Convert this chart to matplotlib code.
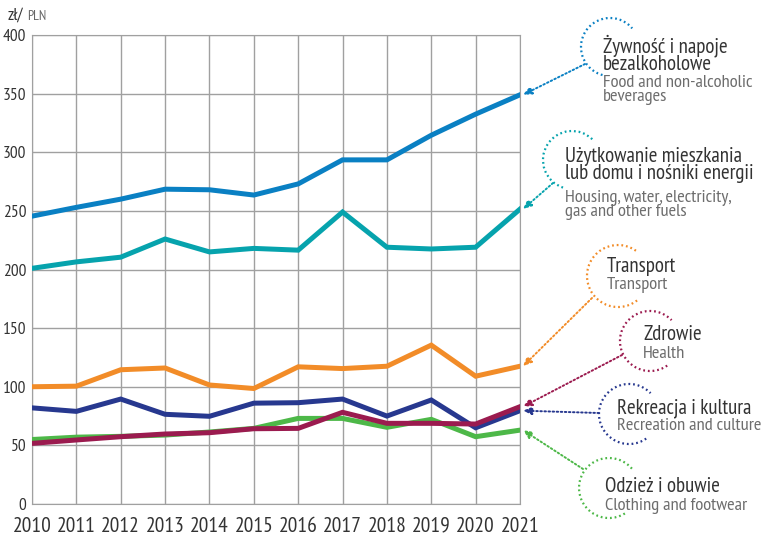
import matplotlib
matplotlib.use("Agg")
import matplotlib.pyplot as plt
from matplotlib.patches import Arc
from matplotlib import font_manager as fm

available = {f.name for f in fm.fontManager.ttflist}
prefs = ['PT Sans Narrow', 'Fira Sans Condensed', 'Roboto Condensed', 'Open Sans Condensed',
         'Encode Sans Condensed', 'Archivo Narrow', 'Asap Condensed', 'Liberation Sans Narrow',
         'IBM Plex Sans Condensed', 'Ubuntu Condensed']
chosen = [p for p in prefs if p in available][:1]
plt.rcParams['font.family'] = chosen + ['DejaVu Sans']

years = list(range(2010, 2022))
food = [245.5, 253, 260, 268.5, 268, 263.5, 273, 293.5, 293.5, 314.5, 332.5, 349]
housing = [201, 206.5, 210.5, 226, 215, 218, 216.5, 249, 219, 217.5, 219, 251.5]
transport = [100, 100.5, 114.5, 116, 101.5, 98.5, 117, 115.5, 117.5, 135.5, 109, 117.5]
recreation = [82, 79, 89.5, 76.5, 74.8, 86, 86.4, 89.5, 75, 88.7, 65, 79.6]
health = [51.7, 54.6, 57.4, 59.7, 60.8, 64.2, 64.5, 78.2, 68.8, 68.8, 68.2, 83]
clothing = [55, 57, 57.7, 58.8, 61.4, 64.5, 73, 73, 65.4, 72.2, 57.4, 63]

series = [
    (food, '#0a80c3', 'Żywność i napoje\nbezalkoholowe', 'Food and non-alcoholic\nbeverages'),
    (housing, '#06a3ad', 'Użytkowanie mieszkania\nlub domu i nośniki energii', 'Housing, water, electricity,\ngas and other fuels'),
    (transport, '#f28c28', 'Transport', 'Transport'),
    (health, '#9b1b4f', 'Zdrowie', 'Health'),
    (recreation, '#27388f', 'Rekreacja i kultura', 'Recreation and culture'),
    (clothing, '#4db848', 'Odzież i obuwie', 'Clothing and footwear'),
]
draw_order = [food, housing, transport, recreation, clothing, health]

W, H = 763, 538
fig = plt.figure(figsize=(W / 100, H / 100), dpi=100)
L, R, T, B = 32, 520, 35, 504
ax = fig.add_axes([L / W, (H - B) / H, (R - L) / W, (B - T) / H])

colors = {id(s[0]): s[1] for s in series}
for d in draw_order:
    ax.plot(years, d, color=colors[id(d)], lw=3.6, solid_joinstyle='miter', zorder=3)

ax.set_xlim(2010, 2021)
ax.set_ylim(0, 400)
ax.set_xticks(years)
ax.set_yticks(range(0, 401, 50))
ax.grid(True, color='#a0a0a0', lw=1.0)
for sp in ax.spines.values():
    sp.set_color('#a0a0a0')
ax.tick_params(length=0, colors='#333333')
ax.tick_params(axis='y', labelsize=12.5, pad=4)
ax.tick_params(axis='x', labelsize=15.5, pad=9)

fig.text(8 / W, 1 - 16 / H, 'zł/', fontsize=12.5, color='#333333', va='center', ha='left')
fig.text(27 / W, 1 - 17 / H, 'PLN', fontsize=10, color='#666666', va='center', ha='left')

ov = fig.add_axes([0, 0, 1, 1], zorder=5)
ov.set_xlim(0, W)
ov.set_ylim(H, 0)
ov.axis('off')
ov.patch.set_alpha(0)

# (circle cx, cy, r, theta1, theta2, text x, title y, sub y, arrow start x, y)
ann = [
    (610, 47, 29, 40, 255, 603, 54, 90, 585, 64),
    (572, 160, 29, 44, 252, 565, 165, 205, 553, 183),
    (618, 276, 31, 50, 308, 607, 266, 285, 592, 298),
    (650, 341, 30, 44, 305, 643, 335, 354, 622, 355),
    (629, 414, 30, 44, 305, 617, 408, 426, 599, 413),
    (609, 488, 30, 35, 302, 605, 487, 506, 583, 469),
]
for (d, c, title, sub), (cx, cy, r, t1, t2, tx, ty, sy, ax0, ay0) in zip(series, ann):
    ov.add_patch(Arc((cx, cy), 2 * r, 2 * r, theta1=360 - t2, theta2=360 - t1,
                     color=c, lw=1.6, ls=(0, (0.8, 1.3))))
    ov.text(tx, ty, title, fontsize=15, color='#333333', va='center', ha='left',
            linespacing=0.88)
    ov.text(tx, sy, sub, fontsize=13.3, color='#6d6d6d', va='center', ha='left',
            linespacing=0.88)
    end = ax.transData.transform((2021, d[-1]))
    ex, ey = end[0] + 3, H - end[1]
    ov.annotate('', xy=(ex, ey), xytext=(ax0, ay0),
                arrowprops=dict(arrowstyle='-|>,head_length=0.5,head_width=0.22',
                                color=c, lw=1.4, ls=(0, (0.8, 1.3)),
                                shrinkA=0, shrinkB=0))

fig.savefig('out.png', dpi=100)
